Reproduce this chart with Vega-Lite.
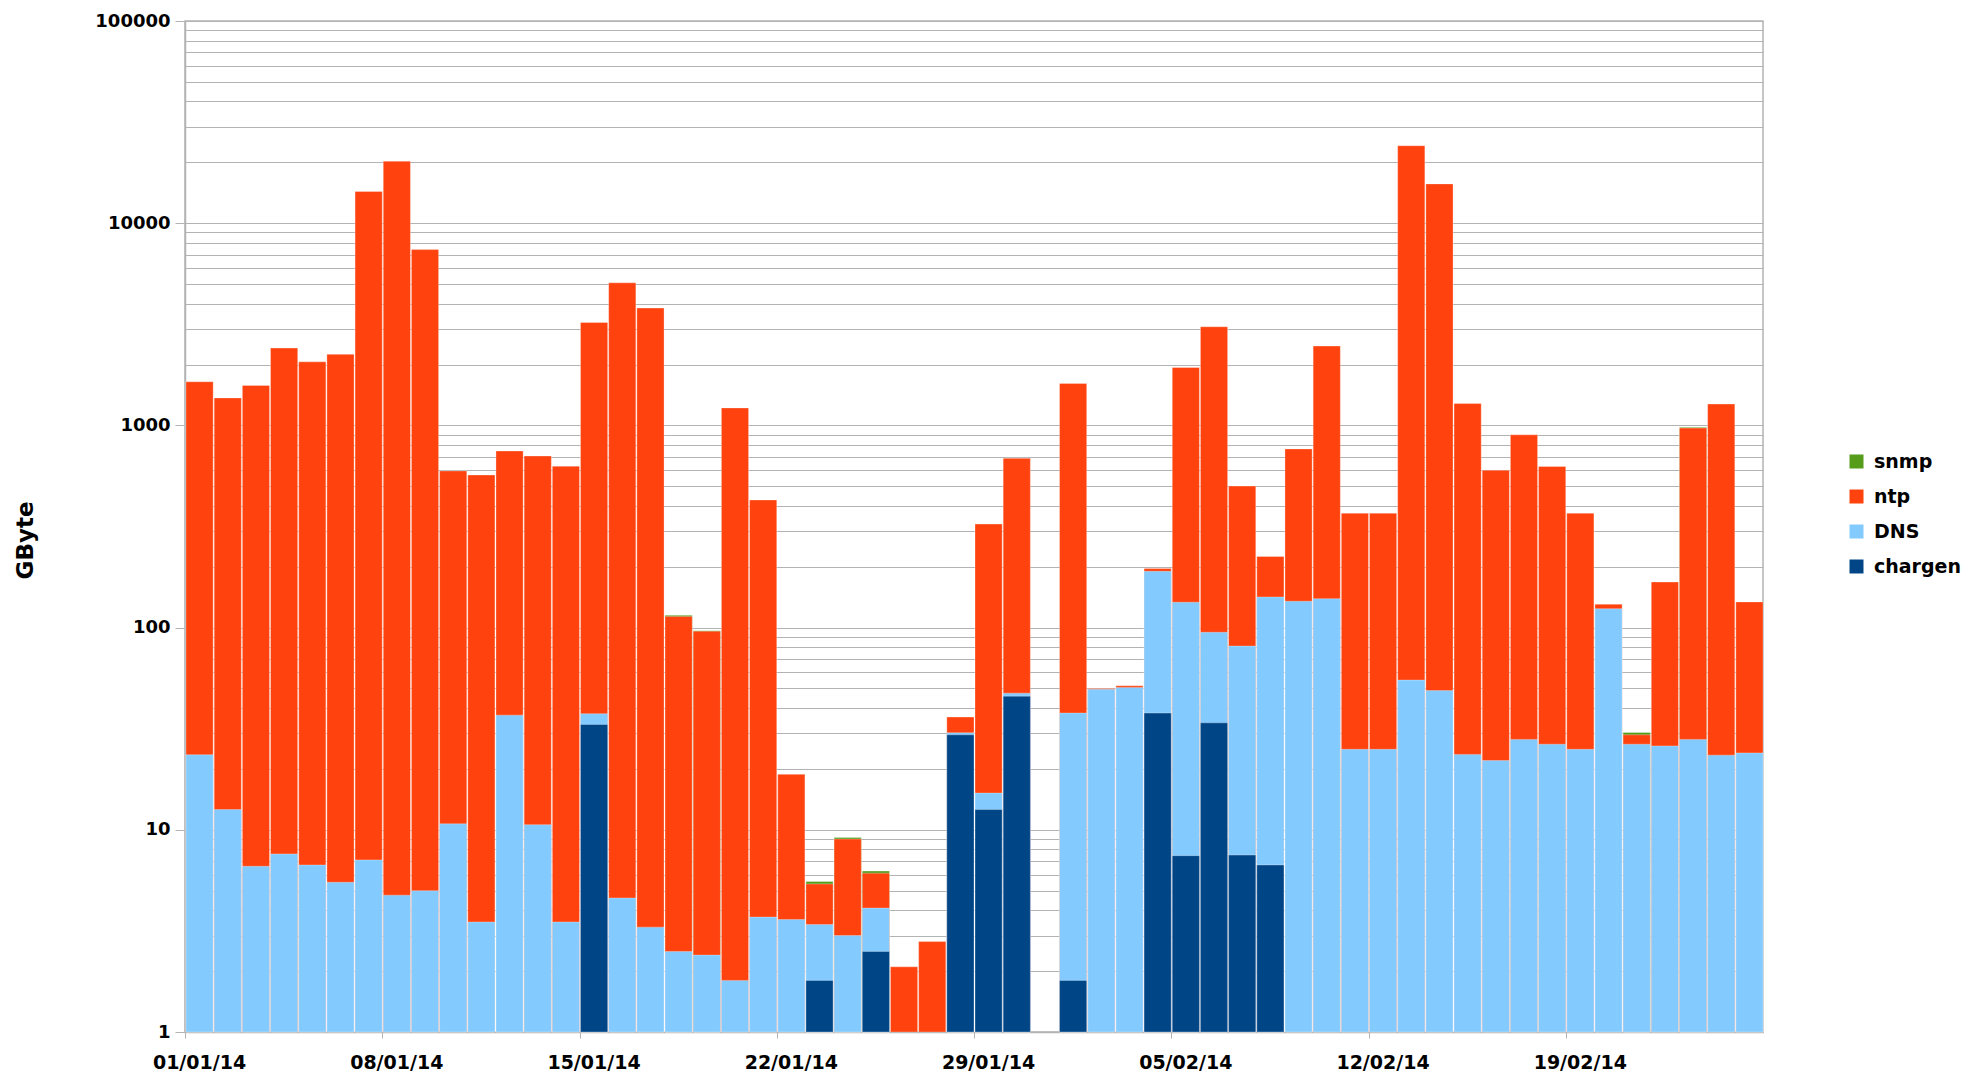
{
  "$schema": "https://vega.github.io/schema/vega-lite/v6.json",
  "width": 1578,
  "height": 1011,
  "autosize": {"type": "none"},
  "padding": {"left": 185, "top": 21, "right": 200, "bottom": 42},
  "background": "white",
  "config": {
    "font": "DejaVu Sans",
    "view": {"stroke": "#b3b3b3", "strokeWidth": 1.5}
  },
  "data": {
    "values": [
      {"d": "2014-01-01", "chargen": 0, "DNS": 23.5, "ntp": 1620, "snmp": 0},
      {"d": "2014-01-02", "chargen": 0, "DNS": 12.6, "ntp": 1355, "snmp": 0},
      {"d": "2014-01-03", "chargen": 0, "DNS": 6.6, "ntp": 1570, "snmp": 0},
      {"d": "2014-01-04", "chargen": 0, "DNS": 7.6, "ntp": 2405, "snmp": 0},
      {"d": "2014-01-05", "chargen": 0, "DNS": 6.7, "ntp": 2055, "snmp": 0},
      {"d": "2014-01-06", "chargen": 0, "DNS": 5.5, "ntp": 2240, "snmp": 0},
      {"d": "2014-01-07", "chargen": 0, "DNS": 7.1, "ntp": 14350, "snmp": 0},
      {"d": "2014-01-08", "chargen": 0, "DNS": 4.75, "ntp": 20250, "snmp": 0},
      {"d": "2014-01-09", "chargen": 0, "DNS": 5.0, "ntp": 7400, "snmp": 0},
      {"d": "2014-01-10", "chargen": 0, "DNS": 10.7, "ntp": 585, "snmp": 0},
      {"d": "2014-01-11", "chargen": 0, "DNS": 3.5, "ntp": 565, "snmp": 0},
      {"d": "2014-01-12", "chargen": 0, "DNS": 36.9, "ntp": 710, "snmp": 0},
      {"d": "2014-01-13", "chargen": 0, "DNS": 10.6, "ntp": 695, "snmp": 0},
      {"d": "2014-01-14", "chargen": 0, "DNS": 3.5, "ntp": 625, "snmp": 0},
      {"d": "2014-01-15", "chargen": 33.2, "DNS": 4.3, "ntp": 3190, "snmp": 0},
      {"d": "2014-01-16", "chargen": 0, "DNS": 4.6, "ntp": 5065, "snmp": 0},
      {"d": "2014-01-17", "chargen": 0, "DNS": 3.3, "ntp": 3800, "snmp": 0},
      {"d": "2014-01-18", "chargen": 0, "DNS": 2.5, "ntp": 111, "snmp": 1.5},
      {"d": "2014-01-19", "chargen": 0, "DNS": 2.4, "ntp": 93.5, "snmp": 0.5},
      {"d": "2014-01-20", "chargen": 0, "DNS": 1.8, "ntp": 1218, "snmp": 0},
      {"d": "2014-01-21", "chargen": 0, "DNS": 3.7, "ntp": 424, "snmp": 0},
      {"d": "2014-01-22", "chargen": 0, "DNS": 3.6, "ntp": 15.2, "snmp": 0},
      {"d": "2014-01-23", "chargen": 1.8, "DNS": 1.6, "ntp": 2.0, "snmp": 0.15},
      {"d": "2014-01-24", "chargen": 0, "DNS": 3.0, "ntp": 6.0, "snmp": 0.15},
      {"d": "2014-01-25", "chargen": 2.5, "DNS": 1.6, "ntp": 2.0, "snmp": 0.15},
      {"d": "2014-01-26", "chargen": 0, "DNS": 0, "ntp": 2.1, "snmp": 0},
      {"d": "2014-01-27", "chargen": 0, "DNS": 0, "ntp": 2.8, "snmp": 0},
      {"d": "2014-01-28", "chargen": 29.5, "DNS": 0.7, "ntp": 5.9, "snmp": 0},
      {"d": "2014-01-29", "chargen": 12.6, "DNS": 2.6, "ntp": 310, "snmp": 0},
      {"d": "2014-01-30", "chargen": 45.8, "DNS": 1.6, "ntp": 640, "snmp": 0},
      {"d": "2014-01-31", "chargen": 0, "DNS": 0, "ntp": 0, "snmp": 0},
      {"d": "2014-02-01", "chargen": 1.8, "DNS": 36, "ntp": 1575, "snmp": 0},
      {"d": "2014-02-02", "chargen": 0, "DNS": 49.5, "ntp": 0.5, "snmp": 0},
      {"d": "2014-02-03", "chargen": 0, "DNS": 50.5, "ntp": 1, "snmp": 0},
      {"d": "2014-02-04", "chargen": 37.8, "DNS": 152, "ntp": 6, "snmp": 0},
      {"d": "2014-02-05", "chargen": 7.45, "DNS": 126, "ntp": 1800, "snmp": 0},
      {"d": "2014-02-06", "chargen": 33.8, "DNS": 61, "ntp": 2980, "snmp": 0},
      {"d": "2014-02-07", "chargen": 7.5, "DNS": 73.5, "ntp": 420, "snmp": 0},
      {"d": "2014-02-08", "chargen": 6.7, "DNS": 135, "ntp": 83, "snmp": 0},
      {"d": "2014-02-09", "chargen": 0, "DNS": 135, "ntp": 630, "snmp": 0},
      {"d": "2014-02-10", "chargen": 0, "DNS": 139, "ntp": 2330, "snmp": 0},
      {"d": "2014-02-11", "chargen": 0, "DNS": 25, "ntp": 343, "snmp": 0},
      {"d": "2014-02-12", "chargen": 0, "DNS": 25, "ntp": 343, "snmp": 0},
      {"d": "2014-02-13", "chargen": 0, "DNS": 55, "ntp": 24100, "snmp": 0},
      {"d": "2014-02-14", "chargen": 0, "DNS": 48.8, "ntp": 15600, "snmp": 0},
      {"d": "2014-02-15", "chargen": 0, "DNS": 23.6, "ntp": 1260, "snmp": 0},
      {"d": "2014-02-16", "chargen": 0, "DNS": 22, "ntp": 578, "snmp": 0},
      {"d": "2014-02-17", "chargen": 0, "DNS": 28, "ntp": 870, "snmp": 0},
      {"d": "2014-02-18", "chargen": 0, "DNS": 26.5, "ntp": 600, "snmp": 0},
      {"d": "2014-02-19", "chargen": 0, "DNS": 25, "ntp": 343, "snmp": 0},
      {"d": "2014-02-20", "chargen": 0, "DNS": 124, "ntp": 6.5, "snmp": 0},
      {"d": "2014-02-21", "chargen": 0, "DNS": 26.5, "ntp": 3, "snmp": 0.8},
      {"d": "2014-02-22", "chargen": 0, "DNS": 26, "ntp": 142, "snmp": 0},
      {"d": "2014-02-23", "chargen": 0, "DNS": 28, "ntp": 942, "snmp": 8},
      {"d": "2014-02-24", "chargen": 0, "DNS": 23.4, "ntp": 1252, "snmp": 0},
      {"d": "2014-02-25", "chargen": 0, "DNS": 24, "ntp": 110, "snmp": 0}
    ]
  },
  "transform": [
    {"fold": ["chargen", "DNS", "ntp", "snmp"], "as": ["series", "value"]},
    {"window": [{"op": "sum", "field": "value", "as": "top"}], "groupby": ["d"], "frame": [null, 0]},
    {"filter": "datum.value > 0"}
  ],
  "mark": {"type": "bar", "stroke": "#ffffff", "strokeWidth": 1, "strokeOpacity": 0.3},
  "encoding": {
    "x": {
      "field": "d",
      "type": "temporal",
      "timeUnit": "utcyearmonthdate",
      "scale": {"domain": [1388534400000, 1393372800000]},
      "axis": {
        "title": null,
        "values": [1388534400000, 1389139200000, 1389744000000, 1390348800000, 1390953600000, 1391558400000, 1392163200000, 1392768000000],
        "format": "%d/%m/%y",
        "grid": false,
        "domainColor": "#b3b3b3",
        "domainWidth": 1.5,
        "tickColor": "#b3b3b3",
        "tickSize": 6,
        "labelFontSize": 19,
        "labelFontWeight": "bold",
        "labelColor": "#000000",
        "labelPadding": 15,
        "labelOffset": 14,
        "labelOverlap": false,
        "labelFlush": false
      }
    },
    "y": {
      "field": "top",
      "type": "quantitative",
      "stack": null,
      "scale": {"type": "log", "domain": [1, 100000], "clamp": true},
      "axis": {
        "title": "GByte",
        "titleFontSize": 23,
        "titleFontWeight": "bold",
        "titleColor": "#000000",
        "titleX": -160,
        "titleY": 519,
        "titleAngle": -90,
        "titleAlign": "center",
        "titleBaseline": "middle",
        "values": [1,2,3,4,5,6,7,8,9,10,20,30,40,50,60,70,80,90,100,200,300,400,500,600,700,800,900,1000,2000,3000,4000,5000,6000,7000,8000,9000,10000,20000,30000,40000,50000,60000,70000,80000,90000,100000],
        "labelExpr": "indexof([1,10,100,1000,10000,100000], datum.value) >= 0 ? format(datum.value, 'd') : ''",
        "labelFontSize": 18,
        "labelFontWeight": "bold",
        "labelColor": "#000000",
        "labelOverlap": false,
        "labelFlush": false,
        "labelPadding": 5,
        "tickSize": 10,
        "tickColor": "#b3b3b3",
        "tickOpacity": {"expr": "indexof([1,10,100,1000,10000,100000], datum.value) >= 0 ? 1 : 0"},
        "grid": true,
        "gridColor": "#b3b3b3",
        "gridWidth": 1,
        "domainColor": "#b3b3b3",
        "domainWidth": 1.5
      }
    },
    "y2": {"datum": 1},
    "color": {
      "field": "series",
      "type": "nominal",
      "scale": {
        "domain": ["snmp", "ntp", "DNS", "chargen"],
        "range": ["#579d1c", "#ff420e", "#83caff", "#004586"]
      },
      "legend": {
        "title": null,
        "orient": "none",
        "legendX": 1662,
        "legendY": 431,
        "symbolType": "square",
        "symbolSize": 196,
        "symbolStrokeWidth": 0,
        "labelFontSize": 19,
        "labelFontWeight": "bold",
        "labelColor": "#000000",
        "labelOffset": 8,
        "rowPadding": 15
      }
    },
    "order": {"field": "top", "sort": "descending"}
  }
}
